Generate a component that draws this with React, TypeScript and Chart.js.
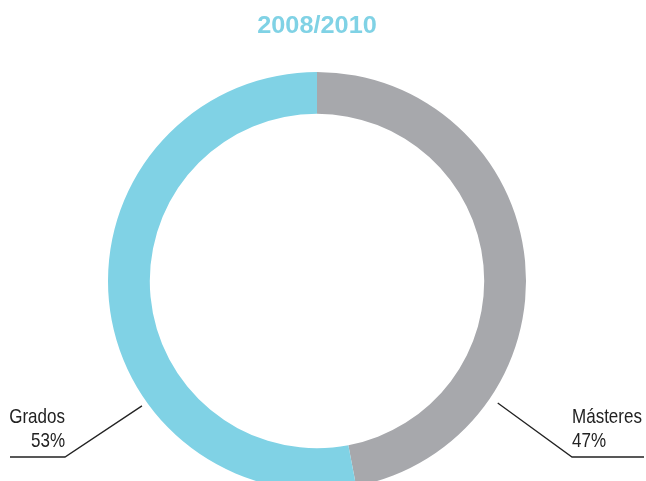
import React, { useEffect, useRef } from "react";
import { Chart, registerables } from "chart.js";

Chart.register(...registerables);

const title = "2008/2010";
const categories = ["Másteres", "Grados"];
const values = [47, 53];
const percentLabels = ["47%", "53%"];
const colors = ["#a7a8ac", "#80d2e5"];

const FONT = '"Liberation Sans", Arial, sans-serif';

function drawScaledText(ctx: any, text: string, x: number, y: number, sx: number, align: string) {
  ctx.save();
  ctx.translate(x, y);
  ctx.scale(sx, 1);
  ctx.textAlign = align;
  ctx.fillText(text, 0, 0);
  ctx.restore();
}

const labelPlugin = {
  id: "labelPlugin",
  afterDraw(chart: any) {
    const ctx = chart.ctx;
    const meta = chart.getDatasetMeta(0);
    const arc = meta.data[0];
    const cx = arc.x;
    const cy = arc.y;
    const R = arc.outerRadius;

    // title
    ctx.save();
    ctx.fillStyle = "#80d2e5";
    ctx.font = "bold 23px " + FONT;
    ctx.textBaseline = "alphabetic";
    drawScaledText(ctx, title, cx, 33, 1.1, "center");
    ctx.restore();

    // leader lines + labels
    const defs = [
      { idx: 0, angle: (34 * Math.PI) / 180, rOff: 9, side: 1, elbow: 255 },
      { idx: 1, angle: (144.5 * Math.PI) / 180, rOff: 6, side: -1, elbow: 252 },
    ];
    ctx.save();
    ctx.strokeStyle = "#222222";
    ctx.lineWidth = 1.3;
    ctx.fillStyle = "#222222";
    ctx.font = "21px " + FONT;
    ctx.textBaseline = "alphabetic";
    for (const d of defs) {
      const sx = cx + (R + d.rOff) * Math.cos(d.angle);
      const sy = cy + (R + d.rOff) * Math.sin(d.angle);
      const ey = cy + 176;
      const ex = cx + d.side * d.elbow;
      const endX = d.side > 0 ? chart.width - 2 : 10;
      ctx.beginPath();
      ctx.moveTo(sx, sy);
      ctx.lineTo(ex, ey);
      ctx.lineTo(endX, ey);
      ctx.stroke();
      const align = d.side > 0 ? "left" : "right";
      drawScaledText(ctx, categories[d.idx], ex, ey - 34, 0.81, align);
      drawScaledText(ctx, percentLabels[d.idx], ex, ey - 10, 0.81, align);
    }
    ctx.restore();
  },
};

export default function App() {
  const ref = useRef<HTMLCanvasElement | null>(null);
  useEffect(() => {
    document.body.style.margin = "0";
    const chart = new Chart(ref.current as HTMLCanvasElement, {
      type: "doughnut",
      data: {
        labels: categories,
        datasets: [
          {
            data: values,
            backgroundColor: colors,
            borderWidth: 0,
          },
        ],
      },
      options: {
        animation: false,
        responsive: false,
        cutout: "80%",
        layout: { padding: { left: 108, right: 120, top: 72, bottom: 20 } },
        plugins: {
          legend: { display: false },
          tooltip: { enabled: false },
          title: { display: false },
        },
      },
      plugins: [labelPlugin],
    });
    return () => chart.destroy();
  }, []);
  return (
    <div style={{ width: 646, height: 481, overflow: "hidden", background: "#fff" }}>
      <canvas ref={ref} width={646} height={510} style={{ display: "block" }} />
    </div>
  );
}
